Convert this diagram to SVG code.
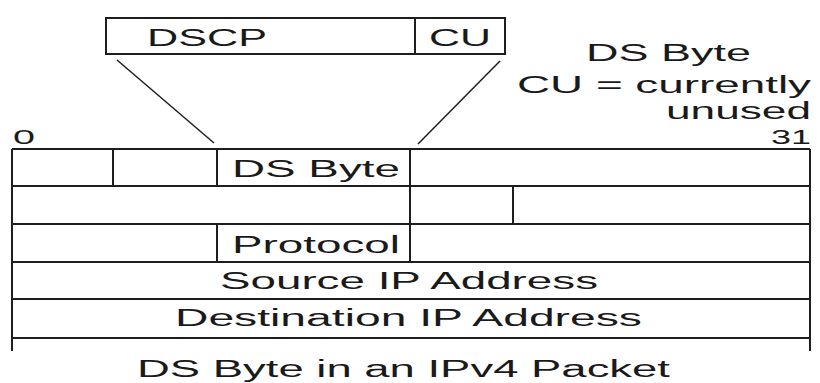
<svg xmlns="http://www.w3.org/2000/svg" width="820" height="383" viewBox="0 0 820 383">
<style>
.ln{stroke:#1e1e1e;stroke-width:2;fill:none}
.sl{stroke:#1e1e1e;stroke-width:1.5;fill:none}
.t{font-family:"Liberation Sans",Arial,sans-serif;font-size:23px;fill:#1a1a1a}
.n{font-family:"Liberation Sans",Arial,sans-serif;font-size:21px;fill:#1a1a1a}
</style>
<rect width="820" height="383" fill="#fff"/>
<g id="ds-byte-detail">
<rect class="ln" x="106" y="18" width="399" height="36"/>
<line class="ln" x1="415" y1="18" x2="415" y2="54"/>
<text class="t" x="147" y="46" textLength="120" lengthAdjust="spacingAndGlyphs">DSCP</text>
<text class="t" x="429" y="46" textLength="62" lengthAdjust="spacingAndGlyphs">CU</text>
</g>
<g id="legend">
<text class="t" x="586" y="61" textLength="165" lengthAdjust="spacingAndGlyphs">DS Byte</text>
<text class="t" x="517" y="93" textLength="294" lengthAdjust="spacingAndGlyphs">CU = currently</text>
<text class="t" x="666" y="119" textLength="145" lengthAdjust="spacingAndGlyphs">unused</text>
</g>
<g id="bit-labels">
<text class="n" x="13" y="144" textLength="22" lengthAdjust="spacingAndGlyphs">0</text>
<text class="n" x="771" y="144" textLength="40" lengthAdjust="spacingAndGlyphs">31</text>
</g>
<g id="connectors">
<line class="sl" x1="117" y1="60" x2="214" y2="143"/>
<line class="sl" x1="500" y1="61" x2="418" y2="144"/>
</g>
<g id="ipv4-header">
<line class="ln" x1="12" y1="149" x2="12" y2="351"/>
<line class="ln" x1="810" y1="149" x2="810" y2="351"/>
<line class="ln" x1="12" y1="149" x2="810" y2="149"/>
<line class="ln" x1="12" y1="186" x2="810" y2="186"/>
<line class="ln" x1="12" y1="224" x2="810" y2="224"/>
<line class="ln" x1="12" y1="262" x2="810" y2="262"/>
<line class="ln" x1="12" y1="299" x2="810" y2="299"/>
<line class="ln" x1="12" y1="338" x2="810" y2="338"/>
<line class="ln" x1="113" y1="149" x2="113" y2="186"/>
<line class="ln" x1="217" y1="149" x2="217" y2="186"/>
<line class="ln" x1="410" y1="149" x2="410" y2="186"/>
<line class="ln" x1="410" y1="186" x2="410" y2="224"/>
<line class="ln" x1="513" y1="186" x2="513" y2="224"/>
<line class="ln" x1="217" y1="224" x2="217" y2="262"/>
<line class="ln" x1="410" y1="224" x2="410" y2="262"/>
<text class="t" x="232" y="177" textLength="168" lengthAdjust="spacingAndGlyphs">DS Byte</text>
<text class="t" x="232" y="253" textLength="168" lengthAdjust="spacingAndGlyphs">Protocol</text>
<text class="t" x="220" y="289" textLength="378" lengthAdjust="spacingAndGlyphs">Source IP Address</text>
<text class="t" x="175" y="326" textLength="467" lengthAdjust="spacingAndGlyphs">Destination IP Address</text>
</g>
<g id="caption">
<text class="t" x="137" y="377" textLength="533" lengthAdjust="spacingAndGlyphs">DS Byte in an IPv4 Packet</text>
</g>
</svg>
